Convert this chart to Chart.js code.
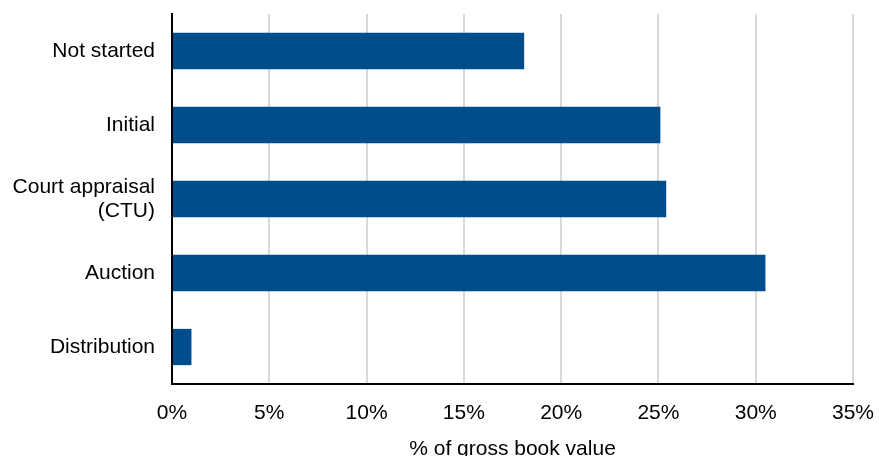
<!DOCTYPE html>
<html>
<head>
<meta charset="utf-8">
<script src="https://cdn.jsdelivr.net/npm/chart.js@4"></script>
<style>
  html, body { margin: 0; padding: 0; background: #fff; }
  #wrap { width: 879px; height: 456px; }
</style>
</head>
<body>
<div id="wrap"><canvas id="myBarChart"></canvas></div>
<script>
const categories = ['Not started', 'Initial', ['Court appraisal', '(CTU)'], 'Auction', 'Distribution'];
const shareValues = [18.1, 25.1, 25.4, 30.5, 1.0];
const xTicks = [0, 5, 10, 15, 20, 25, 30, 35];

Chart.defaults.font.family = '"Liberation Sans", Arial, sans-serif';
Chart.defaults.font.size = 21;
Chart.defaults.color = '#000';

const bar = document.getElementById('myBarChart');
const myBar = new Chart(bar, {
    type: 'bar',
    data: {
        labels: categories,
        datasets: [{
            data: shareValues,
            backgroundColor: 'rgb(0, 77, 141)',
            borderWidth: 0,
            barPercentage: 0.98,
            categoryPercentage: 0.5,
        }]
    },
    options: {
        indexAxis: 'y',
        responsive: true,
        maintainAspectRatio: false,
        animation: false,
        layout: {
            padding: 0
        },
        plugins: {
            legend: false,
            tooltip: { enabled: false },
        },
        scales: {
            x: {
                min: 0,
                max: 35,
                afterBuildTicks: (scale) => {
                    scale.ticks = xTicks.map(v => ({ value: v }));
                },
                afterFit: (scale) => {
                    scale.height = 72;
                    scale.paddingRight = 26;
                },
                ticks: {
                    padding: 17,
                    maxRotation: 0,
                    callback: (v) => v + '%',
                },
                grid: {
                    color: '#d9d9d9',
                    lineWidth: 2,
                    drawTicks: false,
                },
                border: {
                    color: '#000',
                    width: 2,
                },
                title: {
                    display: true,
                    text: '% of gross book value',
                    padding: { top: 0, bottom: -6 },
                }
            },
            y: {
                afterFit: (scale) => {
                    scale.width = 172;
                    scale.paddingTop = 14;
                },
                ticks: {
                    padding: 17,
                    font: { lineHeight: 1.15 },
                },
                grid: {
                    display: false,
                    drawTicks: false,
                },
                border: {
                    color: '#000',
                    width: 2,
                }
            }
        }
    },
});
</script>
</body>
</html>
